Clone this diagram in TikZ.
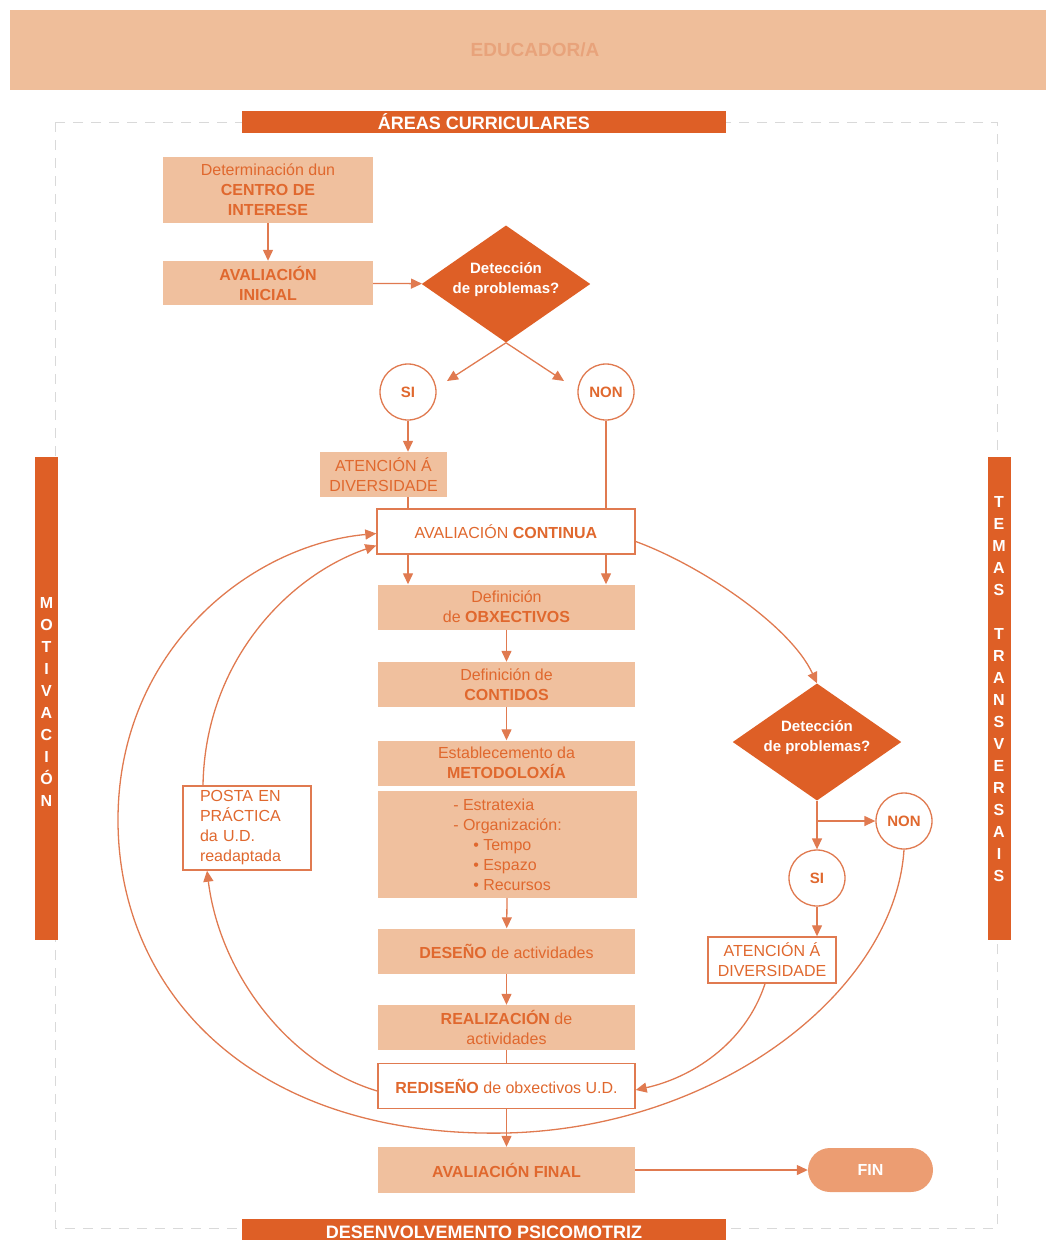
\documentclass[tikz,border=0pt]{standalone}
\usepackage{fontspec}
\setmainfont{Liberation Sans}
\usetikzlibrary{shapes.geometric,arrows.meta}

\definecolor{deep}{HTML}{DE5F26}
\definecolor{pale}{HTML}{F0C09E}
\definecolor{ink}{HTML}{E0682E}
\definecolor{wire}{HTML}{E07A50}
\definecolor{finfill}{HTML}{EC9D72}
\definecolor{banner}{HTML}{EFBE9A}
\definecolor{bannerink}{HTML}{E8A37B}
\definecolor{framegray}{HTML}{D9D9D9}

\tikzset{
  body/.style={font=\fontsize{16}{20}\selectfont},
  palebox/.style={body, fill=pale, text=ink, align=center, inner sep=0pt,
    minimum width=257pt, minimum height=45pt},
  whitebox/.style={body, draw=wire, line width=1.4pt, fill=white, text=ink,
    align=center, inner sep=0pt, minimum width=257pt, minimum height=45pt},
  decision/.style={diamond, fill=deep, text=white, align=center, inner sep=0pt,
    aspect=1.44, minimum width=167pt, minimum height=116pt,
    font=\fontsize{15}{20}\selectfont\bfseries},
  ring/.style={circle, draw=wire, line width=1.3pt, fill=white, text=ink,
    minimum size=56pt, inner sep=0pt, font=\fontsize{15}{20}\selectfont\bfseries},
  titlebar/.style={fill=deep, text=white, minimum width=484pt, inner sep=0pt,
    font=\fontsize{18}{20}\selectfont\bfseries},
  sidebar/.style={fill=deep, minimum width=23pt, minimum height=483pt, inner sep=0pt},
  sideletters/.style={text=white, align=center, inner sep=0pt,
    font=\fontsize{16}{22}\selectfont\bfseries},
  link/.style={draw=wire, line width=1.3pt},
  flow/.style={link, -{Triangle[length=11pt,width=10pt]}},
}

\begin{document}
\begin{tikzpicture}[x=1pt,y=-1pt]
\useasboundingbox (0,0) rectangle (1046,1240);

% header band
\node[fill=banner, minimum width=1050pt, minimum height=80pt, inner sep=0pt,
  text=bannerink, font=\fontsize{19}{20}\selectfont\bfseries] (educ) at (535,50) {EDUCADOR/A};

% dashed frame around the working area
\draw[framegray, line width=1pt, dash pattern=on 10pt off 8pt] (55,122) rectangle (997,1228);

% frame labels
\node[titlebar, minimum height=22pt] (areas) at (484,122) {ÁREAS CURRICULARES};
\node[titlebar, minimum height=26pt] (psico) at (484,1232) {DESENVOLVEMENTO PSICOMOTRIZ};
\node[sidebar] (motiv) at (46.5,698.5) {};
\node[sideletters] (motivtxt) at (46.5,701.5) {M\\O\\T\\I\\V\\A\\C\\I\\Ó\\N};
\node[sidebar] (temas) at (999,698.5) {};
\node[sideletters] (temastxt) at (999,689.5) {T\\E\\M\\A\\S\\\mbox{}\\T\\R\\A\\N\\S\\V\\E\\R\\S\\A\\I\\S};

% initial steps
\node[palebox, minimum width=210pt, minimum height=66pt] (cdi) at (268,190)
  {Determinación dun\\\textbf{CENTRO DE}\\\textbf{INTERESE}};
\node[palebox, minimum width=210pt, minimum height=44pt] (ainicial) at (268,283)
  {\textbf{AVALIACIÓN}\\\textbf{INICIAL}};
\node[decision] (d1) at (506,284) {Detección\\de problemas?\\[-8pt]\mbox{}};
\node[ring] (si1) at (408,392) {SI};
\node[ring] (non1) at (606,392) {NON};
\node[palebox, minimum width=127pt, minimum height=45pt] (ad1) at (383.5,474.5)
  {ATENCIÓN Á\\DIVERSIDADE};

% main column
\node[whitebox, minimum width=258pt] (acont) at (506,531.5) {AVALIACIÓN \textbf{CONTINUA}};
\node[palebox] (obx) at (506.5,607) {Definición\\de \textbf{OBXECTIVOS}};
\node[palebox] (cont) at (506.5,684.5) {Definición de\\\textbf{CONTIDOS}};
\node[palebox] (meto) at (506.5,763) {Establecemento da\\\textbf{METODOLOXÍA}};
\node[palebox, minimum width=259pt, minimum height=107pt, align=left] (org) at (507.5,844.5)
  {- Estratexia\\- Organización:\\\hspace{20pt}• Tempo\\\hspace{20pt}• Espazo\\\hspace{20pt}• Recursos};
\node[palebox] (des) at (506.5,951) {\textbf{DESEÑO} de actividades};
\node[palebox] (real) at (506.5,1027.5) {\textbf{REALIZACIÓN} de\\actividades};
\node[whitebox] (redis) at (506.5,1086) {\textbf{REDISEÑO} de obxectivos U.D.};
\node[palebox, minimum height=46pt] (afinal) at (506.5,1170) {\textbf{AVALIACIÓN FINAL}};
\node[fill=finfill, rounded corners=22pt, minimum width=125pt, minimum height=44pt,
  inner sep=0pt, text=white, font=\fontsize{16}{20}\selectfont\bfseries] (fin) at (870.5,1170) {FIN};

% left loop box
\node[whitebox, minimum width=128pt, minimum height=84pt, align=left,
  text width=94pt, inner xsep=17pt] (posta) at (247,828)
  {POSTA EN\\PRÁCTICA\\da U.D.\\readaptada};

% right branch
\node[decision] (d2) at (817,742) {Detección\\de problemas?\\[-8pt]\mbox{}};
\node[ring] (si2) at (817,878) {SI};
\node[ring] (non2) at (904,821) {NON};
\node[whitebox, minimum width=128pt, minimum height=46pt] (ad2) at (772,960)
  {ATENCIÓN Á\\DIVERSIDADE};

% free ends of the first fork and of the second branch
\coordinate (si1in) at (447,381);
\coordinate (non1in) at (564,381);
\coordinate (fork2) at (817,821);

% connectors, top part
\draw[flow] (cdi) -- (ainicial);
\draw[flow] (ainicial) -- (d1);
\draw[flow] (d1.south) -- (si1in);
\draw[flow] (d1.south) -- (non1in);
\draw[flow] (si1.south) -- (si1.south |- ad1.north);
\draw[link] (si1 |- ad1.south) -- (si1 |- acont.north);
\draw[link] (non1.south) -- (non1 |- acont.north);

% main column
\draw[flow] (si1 |- acont.south) -- (si1 |- obx.north);
\draw[flow] (non1 |- acont.south) -- (non1 |- obx.north);
\draw[flow] (obx) -- (cont);
\draw[flow] (cont) -- (meto);
\draw[flow] (org) -- (des);
\draw[flow] (des) -- (real);
\draw[link] (real) -- (redis);
\draw[flow] (redis) -- (afinal);
\draw[flow] (afinal) -- (fin);

% right branch
\draw[flow] ([yshift=-10pt]acont.east) .. controls (700,565) and (790,625) .. (d2.north);
\draw[flow] (d2.south) -- (si2.north);
\draw[flow] (fork2) -- (non2.west);
\draw[flow] (si2.south) -- (si2.south |- ad2.north);
\draw[flow] ([xshift=-7pt]ad2.south) .. controls (745,1045) and (690,1078) .. ([yshift=-4pt]redis.east);

% outer loop back to continuous evaluation
\draw[flow] (non2.south) .. controls (895,990) and (720,1128) .. (506,1133)
  .. controls (250,1138) and (118,990) .. (118,820)
  .. controls (118,650) and (250,545) .. ([yshift=-2pt]acont.west);

% inner loop through the readapted unit
\draw[flow] ([yshift=-5pt]redis.west) .. controls (290,1065) and (220,975) .. ([xshift=-40pt]posta.south);
\draw[flow] ([xshift=-44pt]posta.north) .. controls (205,660) and (290,575) .. ([yshift=-14pt]acont.west);
\end{tikzpicture}
\end{document}
